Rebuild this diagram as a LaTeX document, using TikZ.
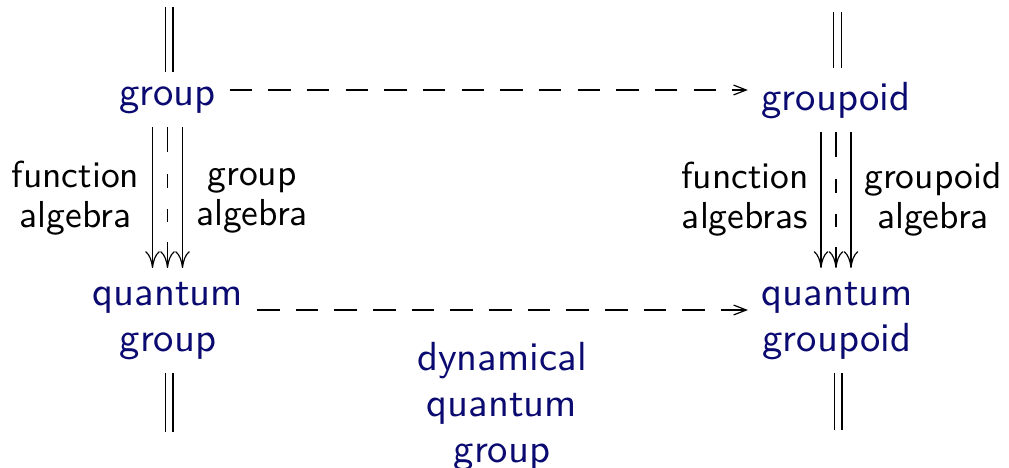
\documentclass[tikz,border=0pt]{standalone}
\usepackage{fontspec}
\newfontfamily\lmsansten{lmsans10-regular}[Extension=.otf]
\usetikzlibrary{arrows.meta,calc}
\definecolor{navy}{RGB}{10,10,112}
\begin{document}
\begin{tikzpicture}[x=0.025cm,y=-0.025cm,
  obj/.style={font={\lmsansten\fontsize{28.9}{32.7}\selectfont}, text=navy, inner sep=9.6pt, align=center},
  lab/.style={font={\lmsansten\fontsize{26.7}{28.4}\selectfont}, inner sep=0pt, align=center},
  eqline/.style={double, double distance=4.7pt, line width=0.85pt},
  varrow/.style={line width=0.85pt, -{Computer Modern Rightarrow[length=12pt,width=10.5pt]}},
  vdash/.style={dash pattern=on 17.8pt off 15.6pt on 10pt off 15pt on 9.2pt off 14.2pt on 40pt},
  harrow/.style={line width=0.85pt, dash pattern=on 16pt off 11.5pt, -{Straight Barb[length=9pt,width=7pt]}}]
\useasboundingbox (0,0) rectangle (1009,468);
% objects (base = baseline of the last line)
\node[obj, anchor=base] (g) at (167.5,105) {group};
\node[obj, anchor=base] (gd) at (836,110) {groupoid};
\node[obj, anchor=base] (qg) at (168,351) {quantum\\group};
\node[obj, anchor=base] (qgd) at (837,351) {quantum\\groupoid};
\node[obj, anchor=base] (dqg) at (502,462) {dynamical\\quantum\\group};
% labels
\node[lab, anchor=base] (l1) at (75.5,227) {function\\algebra};
\node[lab, anchor=base] (l2) at (252,225) {group\\algebra};
\node[lab, anchor=base] (l3) at (745,228) {function\\algebras};
\node[lab, anchor=base] (l4) at (933,228) {groupoid\\algebra};
% horizontal dashed arrows
\draw[harrow] ($(g.base east)+(0,-15)$) -- ($(gd.base west)+(0,-20)$);
\draw[harrow] ($(qg.base east)+(0,-41)$) -- ($(qgd.base west)+(0,-41)$);
% vertical triple arrows
\draw[varrow] ($(g.south)+(-15,0)$) -- ($(g.south |- qg.north)+(-15,0)$);
\draw[varrow,vdash] ($(g.south)+(0,0)$) -- ($(g.south |- qg.north)+(0,0)$);
\draw[varrow] ($(g.south)+(15,0)$) -- ($(g.south |- qg.north)+(15,0)$);
\draw[varrow] ($(gd.south)+(-15,0)$) -- ($(gd.south |- qgd.north)+(-15,0)$);
\draw[varrow,vdash] ($(gd.south)+(0,0)$) -- ($(gd.south |- qgd.north)+(0,0)$);
\draw[varrow] ($(gd.south)+(15,0)$) -- ($(gd.south |- qgd.north)+(15,0)$);
% equalities
\coordinate (t1) at (169,7);
\coordinate (t2) at (837.5,12);
\coordinate (b1) at (169,432);
\coordinate (b2) at (838,430);
\draw[eqline] (t1) -- (t1 |- g.north);
\draw[eqline] (t2) -- (t2 |- gd.north);
\draw[eqline] (b1 |- qg.south) -- (b1);
\draw[eqline] (b2 |- qgd.south) -- (b2);
\end{tikzpicture}
\end{document}
